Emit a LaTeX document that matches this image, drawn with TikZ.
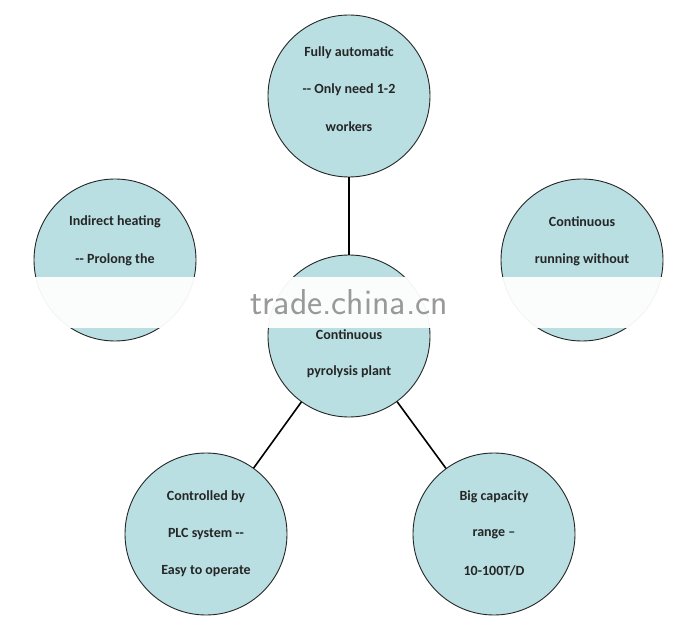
\documentclass[tikz,border=0pt]{standalone}
\usepackage{fontspec}
\setmainfont{Carlito}
\begin{document}
\begin{tikzpicture}[x=1pt,y=-1pt,
  bub/.style={circle,draw=black!85,line width=0.9pt,minimum size=162pt,inner sep=0pt},
  txt/.style={font=\bfseries\fontsize{14}{16}\selectfont,text=black!85},
  link/.style={line width=1.6pt,black}]
\useasboundingbox (0,0) rectangle (696,636);
\definecolor{bubfill}{HTML}{B9DFE2}
\tikzset{bub/.append style={fill=bubfill}}
\node[bub] (top) at (349,96) {};
\node[bub] (cen) at (349,336) {};
\node[bub] (lft) at (115,260) {};
\node[bub] (rgt) at (582,260) {};
\node[bub] (bl) at (206,534) {};
\node[bub] (br) at (494,534) {};
\draw[link] (top) -- (cen);
\draw[link] (cen) -- (bl);
\draw[link] (cen) -- (br);
\node[txt] (t1) at (349,53) {Fully automatic};
\node[txt] (t2) at (349,90) {-{}- Only need 1-2};
\node[txt] (t3) at (349,127) {workers};
\node[txt] (l1) at (115,222) {Indirect heating};
\node[txt] (l2) at (115,260) {-{}- Prolong the};
\node[txt] (r1) at (582,222) {Continuous};
\node[txt] (r2) at (582,260) {running without};
\node[txt] (c1) at (349,335) {Continuous};
\node[txt] (c2) at (349,372) {pyrolysis plant};
\node[txt] (b1) at (206,497) {Controlled by};
\node[txt] (b2) at (206,534) {PLC system -{}-};
\node[txt] (b3) at (206,571) {Easy to operate};
\node[txt] (d1) at (494,497) {Big capacity};
\node[txt] (d2) at (494,534) {range –};
\node[txt] (d3) at (494,571) {10-100T/D};
\fill[white,opacity=0.95] (25,277) rectangle (670,328);
\node[font=\sffamily\fontsize{36}{38}\selectfont,text=black!40] (wm) at (349,302) {trade.china.cn};
\end{tikzpicture}
\end{document}
